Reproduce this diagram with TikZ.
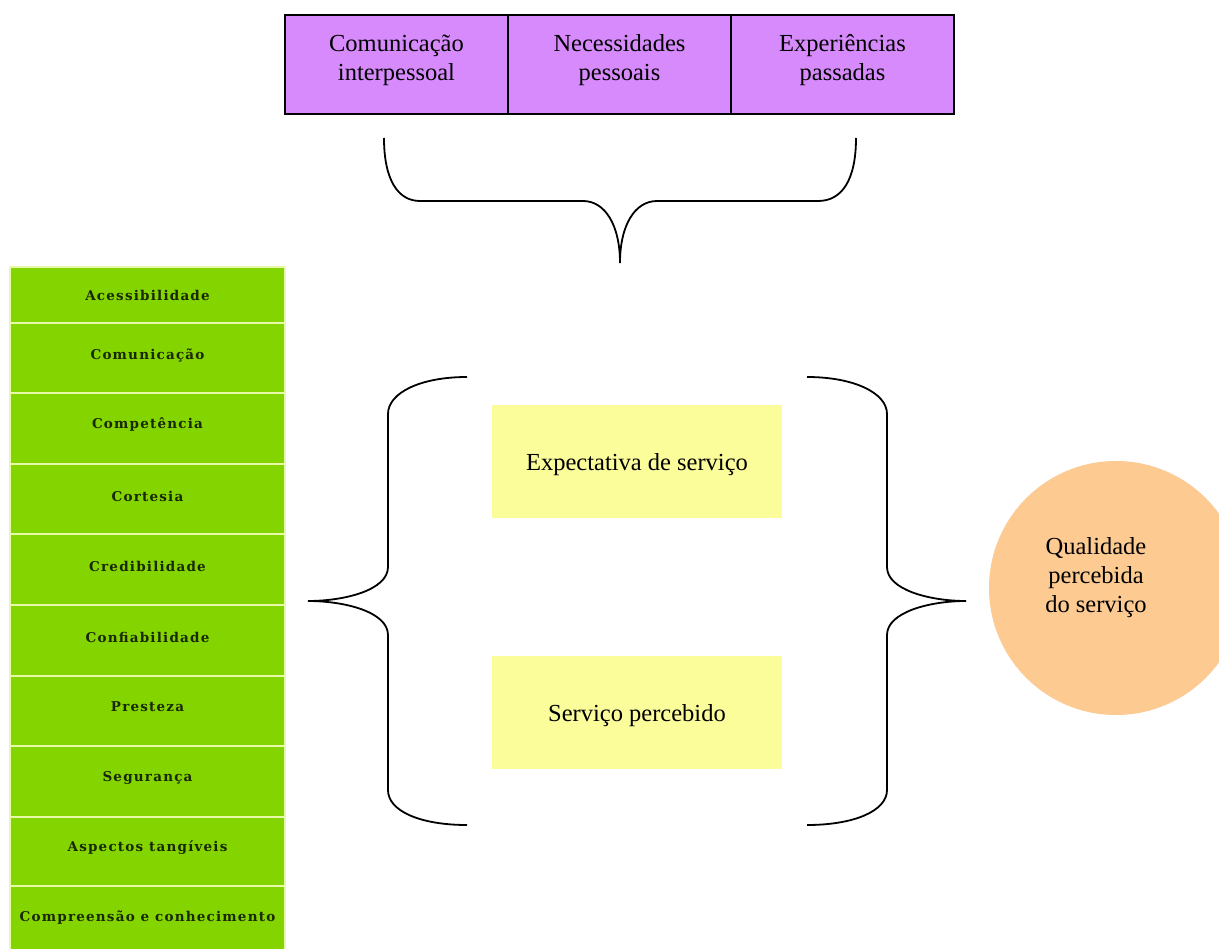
\documentclass[tikz,border=0pt]{standalone}
\usepackage{fontspec}
\setmainfont{Liberation Serif}
\newfontfamily\greenfont{DejaVu Serif}[LetterSpace=9]
\definecolor{purplebox}{RGB}{215,138,252}
\definecolor{yellowbox}{RGB}{251,252,154}
\definecolor{greenbox}{RGB}{132,212,0}
\definecolor{greenline}{RGB}{232,250,170}
\definecolor{greentxt}{RGB}{25,40,0}
\definecolor{orangecirc}{RGB}{253,203,146}
\tikzset{
  topbox/.style={draw=black, line width=1.3pt, fill=purplebox, minimum width=223pt, minimum height=99pt, inner sep=0pt},
  bigtext/.style={align=center, inner sep=0pt, font=\fontsize{24.5}{29}\selectfont},
  yelbox/.style={fill=yellowbox, minimum width=290pt, minimum height=113pt, inner sep=0pt},
  greenrow/.style={fill=greenbox, draw=greenline, line width=1.5pt, minimum width=275pt, inner sep=0pt},
  greentext/.style={inner sep=0pt, text=greentxt, font=\greenfont\bfseries\fontsize{13.5}{15}\selectfont},
  bracestyle/.style={draw=black, line width=1.8pt},
}
\begin{document}
\begin{tikzpicture}[x=1pt,y=-1pt]
\useasboundingbox (0,0) rectangle (1219,949);
\clip (0,0) rectangle (1219,949);
\fill[white] (0,0) rectangle (1219,949);

% top boxes
\node[topbox] (c1) at (396.5,64.5) {};
\node[topbox] (c2) at (619.5,64.5) {};
\node[topbox] (c3) at (842.5,64.5) {};
\node[bigtext] (t1) at (396.5,60.5) {Comunicação\\interpessoal};
\node[bigtext] (t2) at (619.5,60.5) {Necessidades\\pessoais};
\node[bigtext] (t3) at (842.5,60.5) {Experiências\\passadas};

% top brace
\draw[bracestyle] (384,138) .. controls (384,180) and (398,201) .. (420,201) -- (583,201)
  .. controls (605,201) and (620,225) .. (620,263)
  .. controls (620,225) and (635,201) .. (657,201) -- (818,201)
  .. controls (842,201) and (856,180) .. (856,138);

% green column
\foreach \i/\top/\bot in {
  1/267/323, 2/323/393, 3/393/464, 4/464/534, 5/534/605,
  6/605/676, 7/676/746, 8/746/817, 9/817/886, 10/886/955}{
  \node[greenrow, minimum height={(\bot-\top)*1pt}] (g\i) at (147.5,{(\top+\bot)/2}) {};
}
\node[greentext] (gt1) at (147.5,295) {Acessibilidade};
\node[greentext] (gt2) at (147.5,355) {Comunicação};
\node[greentext] (gt3) at (147.5,425) {Competência};
\node[greentext] (gt4) at (147.5,496) {Cortesia};
\node[greentext] (gt5) at (147.5,566) {Credibilidade};
\node[greentext] (gt6) at (147.5,637) {Confiabilidade};
\node[greentext] (gt7) at (147.5,707) {Presteza};
\node[greentext] (gt8) at (147.5,778) {Segurança};
\node[greentext] (gt9) at (147.5,848) {Aspectos tangíveis};
\node[greentext] (gt10) at (147.5,918) {Compreensão e conhecimento};

% left brace
\draw[bracestyle] (467,377) .. controls (420,377) and (388,393) .. (388,414) -- (388,567)
  .. controls (388,590) and (345,601) .. (308,601)
  .. controls (345,601) and (388,612) .. (388,635) -- (388,790)
  .. controls (388,811) and (420,825) .. (467,825);

% right brace
\draw[bracestyle] (807,377) .. controls (854,377) and (887,393) .. (887,414) -- (887,567)
  .. controls (887,590) and (930,601) .. (966,601)
  .. controls (930,601) and (887,612) .. (887,635) -- (887,790)
  .. controls (887,811) and (854,825) .. (807,825);

% yellow boxes
\node[yelbox] (e1) at (637,461.5) {};
\node[bigtext] (et1) at (637,465) {Expectativa de serviço};
\node[yelbox] (e2) at (637,712.5) {};
\node[bigtext] (et2) at (637,716) {Serviço percebido};

% circle
\node[circle, fill=orangecirc, minimum size=254pt, inner sep=0pt] (q) at (1116,588) {};
\node[bigtext] (qt) at (1096,578) {Qualidade\\percebida\\do serviço};
\end{tikzpicture}
\end{document}
